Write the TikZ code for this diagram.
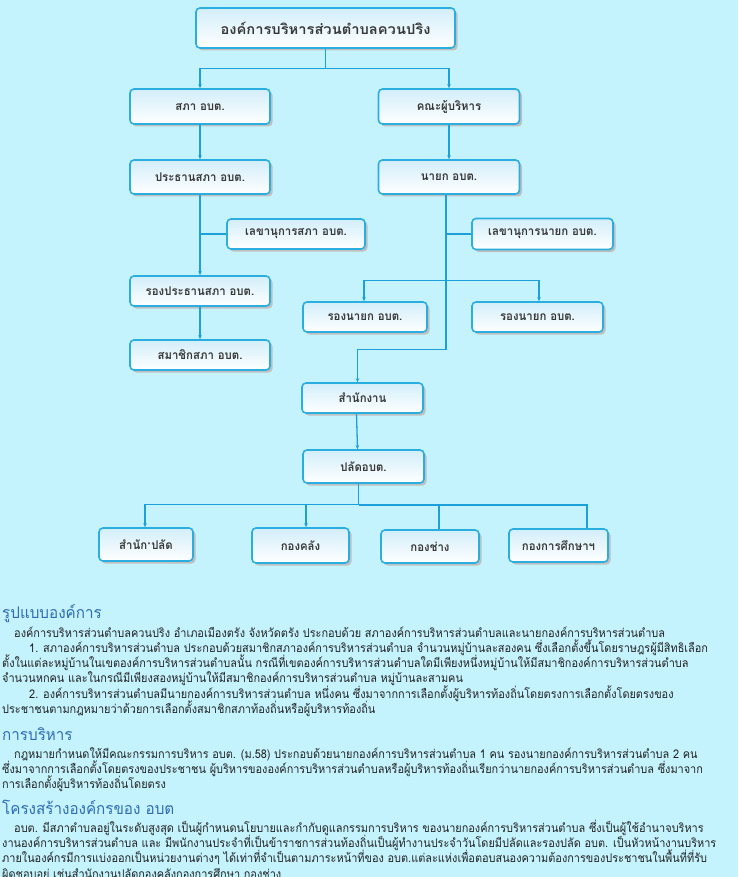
\documentclass[tikz,border=0pt]{standalone}
\usepackage{fontspec}
\usetikzlibrary{arrows.meta,shadows}
\newfontfamily\thaibox[Script=Thai,FakeStretch=0.95]{Loma}
\newfontfamily\thaititle[Script=Thai,FakeStretch=1.05]{Loma}
\newfontfamily\thaibody[Script=Thai,FakeStretch=0.91]{Loma}
\newfontfamily\thaihead[Script=Thai,FakeStretch=0.95]{Loma}
\definecolor{bgc}{HTML}{C4F3FD}
\definecolor{boxline}{HTML}{2AAEE0}
\definecolor{boxtop}{HTML}{D2EEFA}
\definecolor{conc}{HTML}{1BA0DA}
\definecolor{textc}{HTML}{222222}
\definecolor{headc}{HTML}{2E6DB4}
\tikzset{
  box/.style={draw=boxline, line width=1.6pt, rounded corners=4pt,
    top color=boxtop, bottom color=white, text=textc!90,
    font=\thaibox\bfseries\fontsize{12}{14}\selectfont, inner sep=0pt,
    general shadow={fill=black!25, shadow xshift=2.5pt, shadow yshift=-2.5pt}},
  conn/.style={draw=conc, line width=1.3pt},
  arr/.style={conn, -{Stealth[length=4pt,width=3.5pt]}},
  body/.style={anchor=base west, inner sep=0pt, text=textc,
    font=\thaibody\fontsize{12}{14}\selectfont},
  head/.style={anchor=base west, inner sep=0pt, text=headc,
    font=\thaihead\fontsize{16}{18}\selectfont}
}
\begin{document}
\begin{tikzpicture}[x=1pt,y=-1pt]
\clip (0,0) rectangle (738,877);
\fill[bgc] (0,0) rectangle (738,877);
% boxes
\node[box, font=\thaititle\bfseries\fontsize{14}{16}\selectfont, minimum width=259pt, minimum height=40pt] (top) at (325.5,28) {องค์การบริหารส่วนตำบลควนปริง};
\node[box, minimum width=140pt, minimum height=35pt] (sapha) at (200,106.5) {สภา อบต.};
\node[box, minimum width=141pt, minimum height=35pt] (khana) at (449,106.5) {คณะผู้บริหาร};
\node[box, minimum width=140pt, minimum height=34pt] (prathan) at (200,177) {ประธานสภา อบต.};
\node[box, minimum width=141pt, minimum height=34pt] (nayok) at (449,177) {นายก อบต.};
\node[box, minimum width=138pt, minimum height=30pt] (lekhasapha) at (296,234) {เลขานุการสภา อบต.};
\node[box, minimum width=140pt, minimum height=30pt] (rongprathan) at (200,291) {รองประธานสภา อบต.};
\node[box, minimum width=140pt, minimum height=30pt] (samachik) at (200,355) {สมาชิกสภา อบต.};
\node[box, minimum width=141pt, minimum height=31pt] (lekhanayok) at (542.5,234) {เลขานุการนายก อบต.};
\node[box, minimum width=124pt, minimum height=30pt] (rong1) at (365,317) {รองนายก อบต.};
\node[box, minimum width=131pt, minimum height=30pt] (rong2) at (537.5,317) {รองนายก อบต.};
\node[box, minimum width=121pt, minimum height=30pt] (office) at (362.5,398) {สำนักงาน};
\node[box, minimum width=121pt, minimum height=33pt] (palat) at (363.5,466.5) {ปลัดอบต.};
\node[box, minimum width=94pt, minimum height=33pt] (b1) at (146,544.5) {สำนัก·ปลัด};
\node[box, minimum width=97pt, minimum height=35pt] (b2) at (300.5,545.5) {กองคลัง};
\node[box, minimum width=98pt, minimum height=33pt] (b3) at (430,546.5) {กองช่าง};
\node[box, minimum width=99pt, minimum height=33pt] (b4) at (558.5,545.5) {กองการศึกษาฯ};
% connectors
\draw[conn] (top.south) -- ++(0,20) coordinate (j0);
\draw[arr] (j0) -| (sapha.north);
\draw[arr] (j0) -| (khana.north);
\draw[arr] (sapha.south) -- (prathan.north);
\draw[arr] (khana.south) -- (nayok.north);
\draw[arr] (prathan.south) -- (rongprathan.north);
\draw[conn] (lekhasapha.west) -- (lekhasapha.west -| prathan.south);
\draw[arr] (rongprathan.south) -- (samachik.north);
\draw[arr] ([xshift=-3pt]nayok.south) -- ++(0,155) -| ([xshift=-5pt]office.north);
\path ([xshift=-3pt]nayok.south) coordinate (nb);
\draw[conn] (lekhanayok.west) -- (lekhanayok.west -| nb);
\path (nb) ++(0,86) coordinate (rj);
\draw[arr] (rj) -| ([xshift=-1pt]rong1.north);
\draw[arr] (rj) -| ([xshift=1.5pt]rong2.north);
\draw[arr] ([xshift=-6pt]office.south) -- ([xshift=-6pt]palat.north);
\draw[conn] ([xshift=-5pt]palat.south) -- ++(0,21) coordinate (pj);
\draw[arr] (pj) -| ([xshift=-1pt]b1.north);
\draw[arr] (pj) -| ([xshift=5.5pt]b2.north);
\draw[conn, line width=1.8pt] (pj) -| ([xshift=9pt]b3.north);
\draw[conn, line width=1.8pt] (pj) -| ([xshift=28.5pt]b4.north);
% text
\node[head] (h1) at (2,618) {รูปแบบองค์การ};
\node[body] (t1) at (14,637) {องค์การบริหารส่วนตำบลควนปริง อำเภอเมืองตรัง จังหวัดตรัง ประกอบด้วย สภาองค์การบริหารส่วนตำบลและนายกองค์การบริหารส่วนตำบล};
\node[body] (t2) at (29,652) {1. สภาองค์การบริหารส่วนตำบล ประกอบด้วยสมาชิกสภาองค์การบริหารส่วนตำบล จำนวนหมู่บ้านละสองคน ซึ่งเลือกตั้งขึ้นโดยราษฎรผู้มีสิทธิเลือก};
\node[body] (t3) at (2,667) {ตั้งในแต่ละหมู่บ้านในเขตองค์การบริหารส่วนตำบลนั้น กรณีที่เขตองค์การบริหารส่วนตำบลใดมีเพียงหนึ่งหมู่บ้านให้มีสมาชิกองค์การบริหารส่วนตำบล};
\node[body] (t4) at (2,682) {จำนวนหกคน และในกรณีมีเพียงสองหมู่บ้านให้มีสมาชิกองค์การบริหารส่วนตำบล หมู่บ้านละสามคน};
\node[body] (t5) at (29,698) {2. องค์การบริหารส่วนตำบลมีนายกองค์การบริหารส่วนตำบล หนึ่งคน ซึ่งมาจากการเลือกตั้งผู้บริหารท้องถิ่นโดยตรงการเลือกตั้งโดยตรงของ};
\node[body] (t6) at (2,713) {ประชาชนตามกฎหมายว่าด้วยการเลือกตั้งสมาชิกสภาท้องถิ่นหรือผู้บริหารท้องถิ่น};
\node[head] (h2) at (2,740) {การบริหาร};
\node[body] (t7) at (14,758) {กฎหมายกำหนดให้มีคณะกรรมการบริหาร อบต. (ม.58) ประกอบด้วยนายกองค์การบริหารส่วนตำบล 1 คน รองนายกองค์การบริหารส่วนตำบล 2 คน};
\node[body] (t8) at (2,773) {ซึ่งมาจากการเลือกตั้งโดยตรงของประชาชน ผู้บริหารขององค์การบริหารส่วนตำบลหรือผู้บริหารท้องถิ่นเรียกว่านายกองค์การบริหารส่วนตำบล ซึ่งมาจาก};
\node[body] (t9) at (2,788) {การเลือกตั้งผู้บริหารท้องถิ่นโดยตรง};
\node[head] (h3) at (2,814) {โครงสร้างองค์กรของ อบต};
\node[body] (t10) at (14,832) {อบต. มีสภาตำบลอยู่ในระดับสูงสุด เป็นผู้กำหนดนโยบายและกำกับดูแลกรรมการบริหาร ของนายกองค์การบริหารส่วนตำบล ซึ่งเป็นผู้ใช้อำนาจบริหาร};
\node[body] (t11) at (2,847) {งานองค์การบริหารส่วนตำบล และ มีพนักงานประจำที่เป็นข้าราชการส่วนท้องถิ่นเป็นผู้ทำงานประจำวันโดยมีปลัดและรองปลัด อบต. เป็นหัวหน้างานบริหาร};
\node[body] (t12) at (2,862) {ภายในองค์กรมีการแบ่งออกเป็นหน่วยงานต่างๆ ได้เท่าที่จำเป็นตามภาระหน้าที่ของ อบต.แต่ละแห่งเพื่อตอบสนองความต้องการของประชาชนในพื้นที่ที่รับ};
\node[body] (t13) at (2,878) {ผิดชอบอยู่ เช่นสำนักงานปลัดกองคลังกองการศึกษา กองช่าง};
\end{tikzpicture}
\end{document}
